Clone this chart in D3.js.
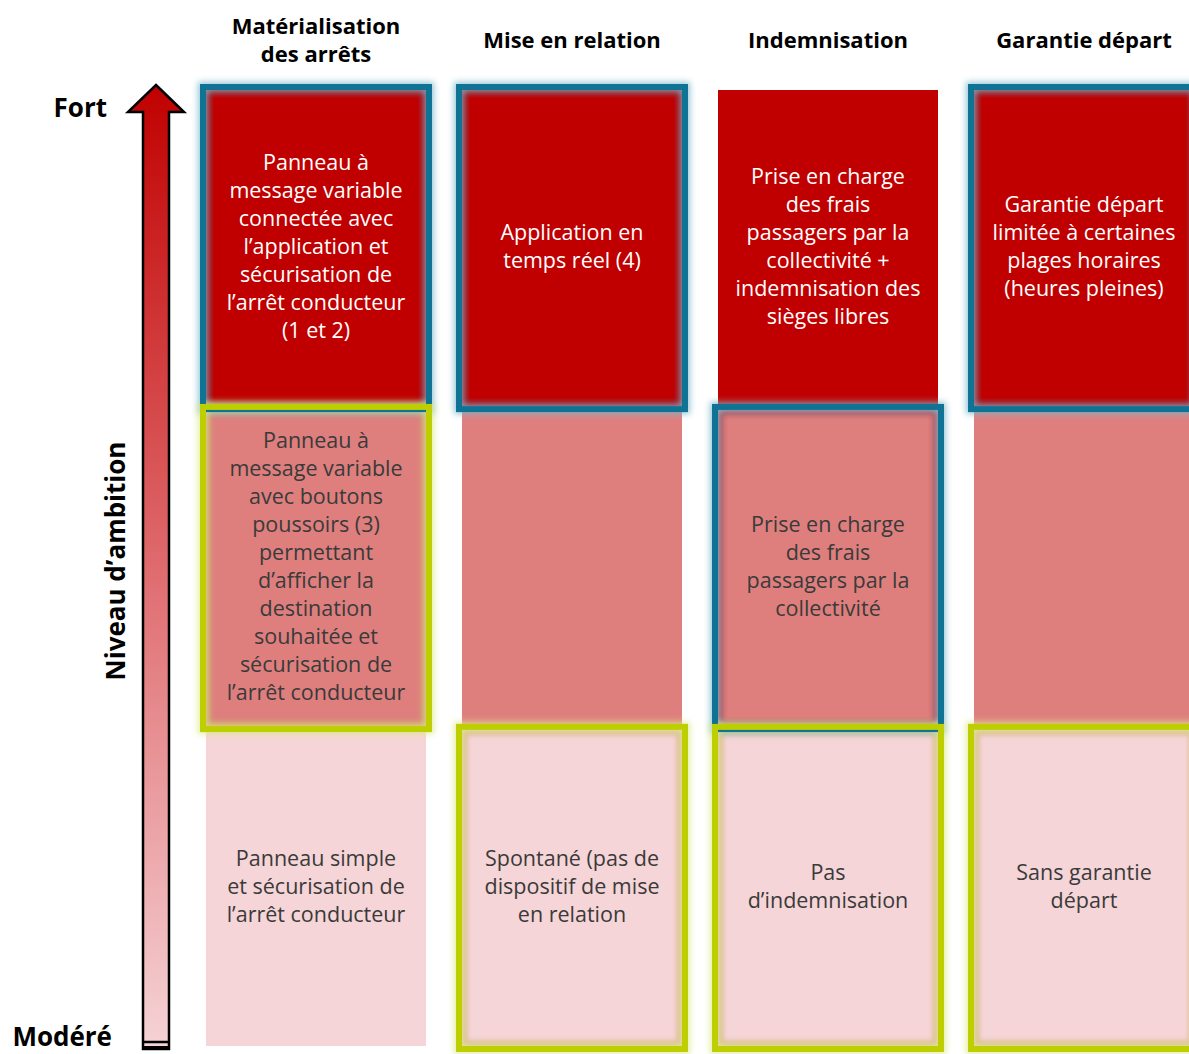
<!DOCTYPE html>
<html><head><meta charset="utf-8">
<script src="https://cdn.jsdelivr.net/npm/d3@7"></script>
<style>body{margin:0;background:#fff}svg{display:block}</style>
</head><body>
<script>
// ---- data ----
const columns = ["Matérialisation\ndes arrêts", "Mise en relation", "Indemnisation", "Garantie départ"];
const levels = ["Fort", "Moyen", "Modéré"];
const levelFill = ["#C00000", "#DE7F7E", "#F5D5D7"];
const levelText = ["#ffffff", "#3a3a3a", "#3a3a3a"];
// cells[level][column]
const cellsFort = [
  "Panneau à\nmessage variable\nconnectée avec\nl’application et\nsécurisation de\nl’arrêt conducteur\n(1 et 2)",
  "Application en\ntemps réel (4)",
  "Prise en charge\ndes frais\npassagers par la\ncollectivité +\nindemnisation des\nsièges libres",
  "Garantie départ\nlimitée à certaines\nplages horaires\n(heures pleines)"
];
const cellsMoyen = [
  "Panneau à\nmessage variable\navec boutons\npoussoirs (3)\npermettant\nd’afficher la\ndestination\nsouhaitée et\nsécurisation de\nl’arrêt conducteur",
  "",
  "Prise en charge\ndes frais\npassagers par la\ncollectivité",
  ""
];
const cellsModere = [
  "Panneau simple\net sécurisation de\nl’arrêt conducteur",
  "Spontané (pas de\ndispositif de mise\nen relation",
  "Pas\nd’indemnisation",
  "Sans garantie\ndépart"
];
// selected scenario highlights: "blue" / "green" / null
const highlightFort = ["blue", "blue", null, "blue"];
const highlightMoyen = ["green", null, "blue", null];
const highlightModere = [null, "green", "green", "green"];
const axisTitle = "Niveau d’ambition";

const cells = [cellsFort, cellsMoyen, cellsModere];
const highlights = [highlightFort, highlightMoyen, highlightModere];
const hlColor = {blue: "#0E7395", green: "#BDCF00"};
const hlGlow = {blue: "#7FB8CC", green: "#DDE88A"};

const W = 1189, H = 1054;
const FONT = "'Open Sans', 'Noto Sans', sans-serif";
const svg = d3.select("body").append("svg").attr("width", W).attr("height", H)
  .style("font-family", FONT);

const x = d3.scaleBand().domain(d3.range(columns.length)).range([206, 1194]).paddingInner(36/256);
const y = d3.scaleBand().domain(d3.range(levels.length)).range([90, 1046]).paddingInner(0.012);

const defs = svg.append("defs");
const grad = defs.append("linearGradient").attr("id", "ag").attr("x1", 0).attr("x2", 0).attr("y1", 0).attr("y2", 1);
grad.append("stop").attr("offset", "0%").attr("stop-color", "#C00000");
grad.append("stop").attr("offset", "50%").attr("stop-color", "#DF6B6E");
grad.append("stop").attr("offset", "100%").attr("stop-color", "#F5D3D6");
defs.append("filter").attr("id", "glow").attr("x", "-10%").attr("y", "-10%").attr("width", "120%").attr("height", "120%")
  .append("feGaussianBlur").attr("stdDeviation", 3);
defs.append("filter").attr("id", "inner").attr("x", "-10%").attr("y", "-10%").attr("width", "120%").attr("height", "120%")
  .append("feGaussianBlur").attr("stdDeviation", 2.5);

// headers
columns.forEach((c, i) => {
  const lines = c.split("\n");
  const cx = x(i) + x.bandwidth() / 2;
  const t = svg.append("text").attr("x", cx).attr("text-anchor", "middle")
    .attr("font-size", 22).attr("font-weight", "bold").attr("fill", "#000");
  const y0 = 41 - (lines.length - 1) * 14;
  lines.forEach((l, k) => t.append("tspan").attr("x", cx).attr("y", y0 + k * 28 + 7).text(l));
});

// cells
const flat = [];
levels.forEach((lv, r) => columns.forEach((c, i) => flat.push({r, i, text: cells[r][i], hl: highlights[r][i]})));

svg.append("g").selectAll("rect").data(flat).join("rect")
  .attr("x", d => x(d.i)).attr("y", d => y(d.r))
  .attr("width", x.bandwidth()).attr("height", y.bandwidth())
  .attr("fill", d => levelFill[d.r]);

const hl = flat.filter(d => d.hl);
// inner shading
defs.selectAll("clipPath").data(hl).join("clipPath").attr("id", (d, k) => "c" + k)
  .append("rect").attr("x", d => x(d.i) - 1).attr("y", d => y(d.r) - 1)
  .attr("width", x.bandwidth() + 2).attr("height", y.bandwidth() + 2);
svg.append("g").selectAll("rect").data(hl).join("rect")
  .attr("clip-path", (d, k) => `url(#c${k})`)
  .attr("x", d => x(d.i) + 2).attr("y", d => y(d.r) + 2)
  .attr("width", x.bandwidth() - 4).attr("height", y.bandwidth() - 4)
  .attr("fill", "none").attr("stroke", d => d.hl === "blue" ? "#8C2030" : "#C8A060")
  .attr("stroke-opacity", 0.6).attr("stroke-width", 6).attr("filter", "url(#inner)");
// outer glow
svg.append("g").selectAll("rect").data(hl).join("rect")
  .attr("x", d => x(d.i) - 3).attr("y", d => y(d.r) - 3)
  .attr("width", x.bandwidth() + 6).attr("height", y.bandwidth() + 6)
  .attr("fill", "none").attr("stroke", d => hlGlow[d.hl]).attr("stroke-width", 10)
  .attr("filter", "url(#glow)").attr("opacity", 0.8);
svg.append("g").selectAll("rect").data(hl).join("rect")
  .attr("x", d => x(d.i) - 3).attr("y", d => y(d.r) - 3)
  .attr("width", x.bandwidth() + 6).attr("height", y.bandwidth() + 6)
  .attr("fill", "none").attr("stroke", d => hlColor[d.hl]).attr("stroke-width", 6);

// cell text
const tg = svg.append("g").selectAll("text").data(flat.filter(d => d.text)).join("text")
  .attr("text-anchor", "middle").attr("font-size", 21.5)
  .attr("fill", d => levelText[d.r]);
tg.each(function(d) {
  const lines = d.text.split("\n");
  const cx = x(d.i) + x.bandwidth() / 2;
  const cy = y(d.r) + y.bandwidth() / 2;
  const lh = 28;
  const y0 = cy - (lines.length - 1) * lh / 2 + 6;
  d3.select(this).selectAll("tspan").data(lines).join("tspan")
    .attr("x", cx).attr("y", (l, k) => y0 + k * lh).text(l => l);
});

// arrow
const ax0 = 143, ax1 = 169, tipY = 85, headY = 112, headL = 128, headR = 184, botY = 1049;
const path = d3.path();
path.moveTo((ax0 + ax1) / 2, tipY);
path.lineTo(headR, headY);
path.lineTo(ax1, headY);
path.lineTo(ax1, botY);
path.lineTo(ax0, botY);
path.lineTo(ax0, headY);
path.lineTo(headL, headY);
path.closePath();
svg.append("path").attr("d", path.toString()).attr("fill", "url(#ag)")
  .attr("stroke", "#000").attr("stroke-width", 2.5).attr("stroke-linejoin", "miter");
svg.append("line").attr("x1", ax0).attr("x2", ax1).attr("y1", botY - 7).attr("y2", botY - 7)
  .attr("stroke", "#000").attr("stroke-width", 2.5);
svg.append("rect").attr("x", ax0).attr("y", botY - 3).attr("width", ax1 - ax0).attr("height", 4).attr("fill", "#000");

// level labels
svg.append("text").attr("x", 107).attr("y", 117).attr("text-anchor", "end")
  .attr("font-size", 26).attr("font-weight", "bold").text(levels[0]);
svg.append("text").attr("x", 112).attr("y", 1046).attr("text-anchor", "end")
  .attr("font-size", 26).attr("font-weight", "bold").text(levels[2]);
svg.append("text").attr("transform", "translate(125,561) rotate(-90)").attr("text-anchor", "middle")
  .attr("font-size", 26).attr("font-weight", "bold").text(axisTitle);
</script>
</body></html>
